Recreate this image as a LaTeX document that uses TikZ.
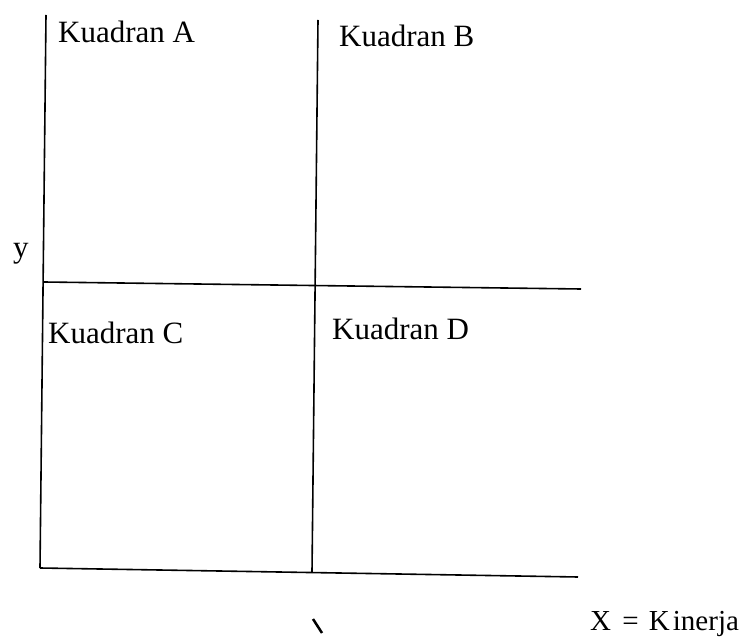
\documentclass[tikz,border=0pt]{standalone}
\usepackage{fontspec}
\setmainfont{Liberation Serif}
\begin{document}
\begin{tikzpicture}[x=1pt,y=-1pt,
  axisline/.style={line width=1.6pt,black},
  quadlabel/.style={anchor=base west,inner sep=0pt,font=\fontsize{31}{36}\selectfont}]
\useasboundingbox (0,0) rectangle (747,644);
% corner coordinates
\coordinate (LT) at (46,15);
\coordinate (LM) at (44,282);
\coordinate (LB) at (40,568);
\coordinate (MT) at (318,20);
\coordinate (MB) at (312,572);
\coordinate (RM) at (581,289);
\coordinate (RB) at (578,577);
\coordinate (t1) at (313,619);
\coordinate (t2) at (322,633);
% lines
\draw[axisline] (LT) -- (LB);
\draw[axisline] (MT) -- (MB);
\draw[axisline] (LM) -- (RM);
\draw[axisline] (LB) -- (RB);
\draw[line width=2.5pt] (t1) -- (t2);
% labels
\node[quadlabel] (qa) at (58,43) {Kuadran A};
\node[quadlabel] (qb) at (339,47) {Kuadran B};
\node[quadlabel] (qc) at (48,343) {Kuadran C};
\node[quadlabel] (qd) at (332,340) {Kuadran D};
\node[quadlabel] (yl) at (13,258) {y};
\node[anchor=base west,inner sep=0pt,font=\fontsize{29}{34}\selectfont] (xl) at (590,630) {X\hspace{4pt} = \hspace{3pt}K\hspace{3pt}inerja};
\end{tikzpicture}
\end{document}
